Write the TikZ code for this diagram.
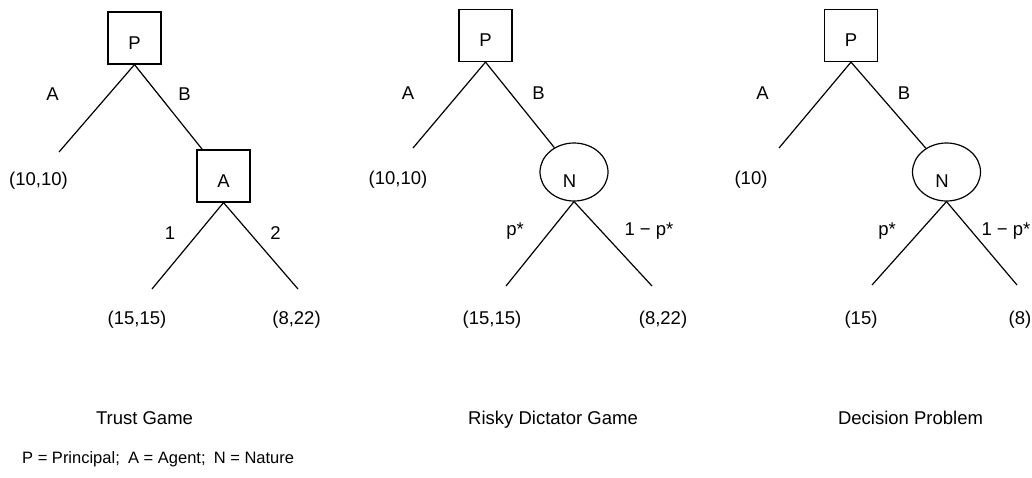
\documentclass[tikz,border=0pt]{standalone}
\usepackage{fontspec}
\setmainfont{Liberation Sans}
\usetikzlibrary{shapes.geometric,positioning}
\tikzset{
 player/.style={draw, rectangle, line width=1.2pt, minimum width=53pt, minimum height=52pt, inner sep=0pt, text height=22pt, text depth=0pt},
 chance/.style={draw, ellipse, line width=1.2pt, minimum width=68pt, minimum height=58pt, inner sep=0pt},
 move/.style={inner sep=0pt},
 payoff/.style={inner sep=0pt},
 gamename/.style={inner sep=0pt, anchor=base},
 branch/.style={line width=1.2pt}
}
\begin{document}
\begin{tikzpicture}[x=1pt, y=-1pt, font=\fontsize{18.5pt}{22pt}\selectfont]
\useasboundingbox (0,0) rectangle (1032,477);
% trust game
 \node[player] (p1) at (134.5,38) {P};
 \node[player] (a1) at (223.5,176) {A};
 \coordinate (l1) at (59,152);
 \coordinate (l11) at (152,289);
 \coordinate (l12) at (298,289);
 \node[move] (mA1) at (52.5,94) {A};
 \node[move] (mB1) at (184.5,94) {B};
 \node[move] (m11) at (170,233) {1};
 \node[move] (m12) at (275.5,233) {2};
 \node[payoff] (u1) at (38.5,181) {(10,10)};
 \node[payoff] (u11) at (137,320) {(15,15)};
 \node[payoff] (u12) at (296.5,320) {(8,22)};
 \node[gamename] (g1) at (144.5,424) {Trust Game};
% edges
 \draw[branch] (p1.south) -- (l1);
 \draw[branch] (p1.south) -- (a1);
 \draw[branch] (a1.south) -- (l11);
 \draw[branch] (a1.south) -- (l12);

% risky dictator game
 \node[player] (p2) at (485.5,35.5) {P};
 \node[chance, label={[move, xshift=-4.5pt, yshift=-9pt]center:N}] (n2) at (574,172) {};
 \coordinate (l2) at (413,148);
 \coordinate (l21) at (506,286);
 \coordinate (l22) at (652,286);
 \node[move] (mA2) at (408,93) {A};
 \node[move] (mB2) at (538.5,93) {B};
 \node[move] (m21) at (515,231) {p*};
 \node[move] (m22) at (649,231) {1 − p*};
 \node[payoff] (u2) at (398,180) {(10,10)};
 \node[payoff] (u21) at (492,320) {(15,15)};
 \node[payoff] (u22) at (663,320) {(8,22)};
 \node[gamename] (g2) at (553,424) {Risky Dictator Game};
% edges
 \draw[branch] (p2.south) -- (l2);
 \draw[branch] (p2.south) -- (n2);
 \draw[branch] (n2.south) -- (l21);
 \draw[branch] (n2.south) -- (l22);

% decision problem
 \node[player] (p3) at (851,35.5) {P};
 \node[chance, label={[move, xshift=-4.5pt, yshift=-9pt]center:N}] (n3) at (946.5,172) {};
 \coordinate (l3) at (779,148);
 \coordinate (l31) at (872,285);
 \coordinate (l32) at (1017,285);
 \node[move] (mA3) at (762.5,93) {A};
 \node[move] (mB3) at (904,93) {B};
 \node[move] (m31) at (887,231) {p*};
 \node[move] (m32) at (1006,231) {1 − p*};
 \node[payoff] (u3) at (751,180) {(10)};
 \node[payoff] (u31) at (861,320) {(15)};
 \node[payoff] (u32) at (1020,320) {(8)};
 \node[gamename] (g3) at (910.5,424) {Decision Problem};
% edges
 \draw[branch] (p3.south) -- (l3);
 \draw[branch] (p3.south) -- (n3);
 \draw[branch] (n3.south) -- (l31);
 \draw[branch] (n3.south) -- (l32);

% key
 \node[inner sep=0pt, anchor=base west, font=\fontsize{16.5pt}{20pt}\selectfont] (key) at (22,463) {P = Principal;\enspace A = Agent;\enspace N = Nature};
\end{tikzpicture}
\end{document}
